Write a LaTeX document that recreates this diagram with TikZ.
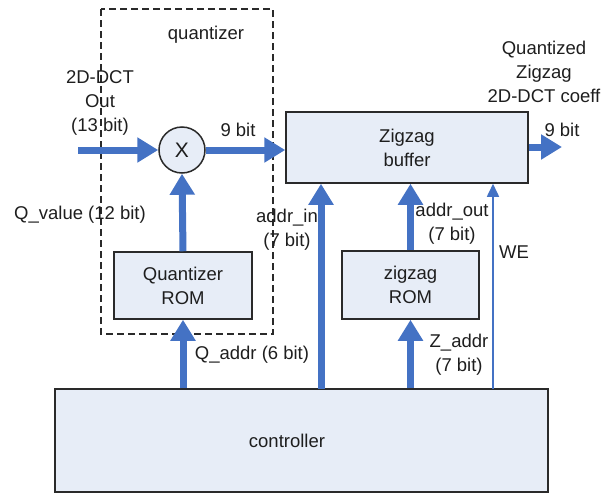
\documentclass[tikz,border=0pt]{standalone}
\usepackage{fontspec}
\setmainfont{Liberation Sans}
\usetikzlibrary{arrows.meta}
\definecolor{boxfill}{HTML}{E7EDF7}
\definecolor{arrowblue}{HTML}{4472C4}
\definecolor{edge}{HTML}{2A2A2A}
\definecolor{txt}{HTML}{1E1E1E}
\tikzset{
  blk/.style={draw=edge, line width=1.5pt, fill=boxfill, inner sep=0pt, align=center, text=txt},
  lbl/.style={inner sep=0pt, align=center, text=txt, font=\fontsize{18.5}{24}\selectfont},
  bus/.style={draw=arrowblue, line width=7pt, -{Triangle[width=24pt,length=21pt]}},
  wire/.style={draw=arrowblue, line width=1.6pt, -{Triangle[width=12pt,length=13pt]}}
}
\begin{document}
\begin{tikzpicture}[x=1pt,y=-1pt, font=\fontsize{18.5}{24}\selectfont]
\useasboundingbox (0,0) rectangle (614,493);
% dashed quantizer region
\draw[edge, line width=1.3pt, dash pattern=on 7pt off 4pt] (101,9) rectangle (273,334);
\node[lbl] (qlabel) at (206,35) {quantizer};
% blocks
\node[blk, circle, minimum size=46pt, font=\fontsize{21}{24}\selectfont] (mult) at (182,150) {X};
\node[blk, minimum width=242pt, minimum height=71pt] (buf) at (407,147.5) {Zigzag\\buffer};
\node[blk, minimum width=138pt, minimum height=67pt] (qrom) at (183,285.5) {Quantizer\\ROM};
\node[blk, minimum width=137pt, minimum height=68pt] (zrom) at (410.5,285) {zigzag\\ROM};
\node[blk, minimum width=493pt, minimum height=103pt] (ctrl) at (301.5,440.5) {};
\node[lbl] (ctrltext) at (287,441) {controller};
% coordinates
\coordinate (in) at (78,150);
\coordinate (out) at (562,147);
\coordinate (ain) at (321,389);
\coordinate (we) at (493,389);
% connectors
\draw[bus] (in) -- (mult.west);
\draw[bus] (mult.east) -- (buf.west |- mult.east);
\draw[bus] (qrom.north) -- (mult.south);
\draw[bus] (qrom.south |- ctrl.north) -- (qrom.south);
\draw[bus] (ain) -- (ain |- buf.south);
\draw[bus] (zrom.north) -- (zrom.north |- buf.south);
\draw[bus] (zrom.south |- ctrl.north) -- (zrom.south);
\draw[wire] (we) -- (we |- buf.south);
\draw[bus] (buf.east |- out) -- (out);
% labels
\node[lbl] (inlbl) at (100,103) {2D-DCT\\Out\\(13 bit)};
\node[lbl] (nine1) at (238,130) {9 bit};
\node[lbl] (nine2) at (562,130) {9 bit};
\node[lbl] (outlbl) at (544,72) {Quantized\\Zigzag\\2D-DCT coeff};
\node[lbl] (qval) at (80,215) {Q\_value (12 bit)};
\node[lbl] (ainlbl) at (287,230) {addr\_in\\(7 bit)};
\node[lbl] (aoutlbl) at (452,224) {addr\_out\\(7 bit)};
\node[lbl] (welbl) at (514,252) {WE};
\node[lbl] (qaddr) at (252,355) {Q\_addr (6 bit)};
\node[lbl] (zaddr) at (459,355) {Z\_addr\\(7 bit)};
\end{tikzpicture}
\end{document}
